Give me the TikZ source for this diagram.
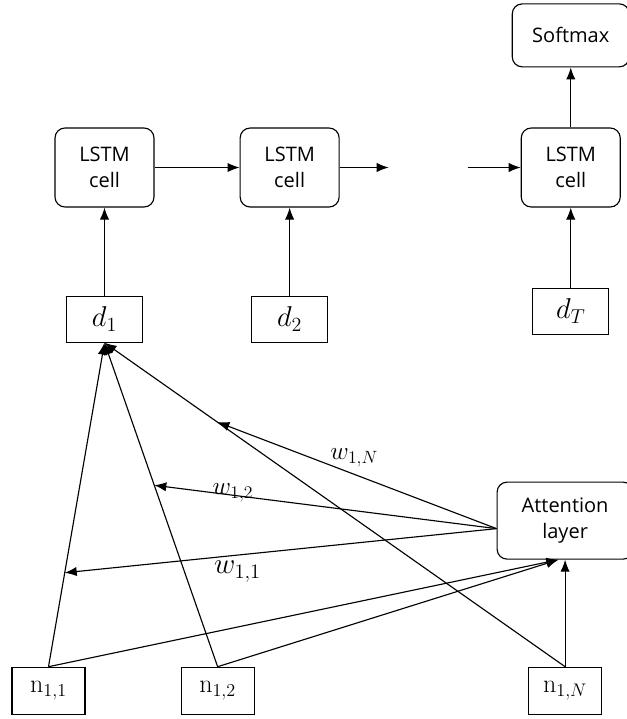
\RequirePackage{fix-cm}
\documentclass[tikz,border=0pt]{standalone}
\usepackage{amsmath}
\usepackage{fontspec}
\setsansfont{Open Sans}
\usetikzlibrary{arrows.meta, positioning, calc}

\begin{document}
\begin{tikzpicture}[
    cell/.style={rectangle, draw, rounded corners=7.5pt, minimum width=74.25pt, minimum height=59.25pt, align=center, font=\sffamily\fontsize{15}{19}\selectfont, line width=0.85pt},
    vec/.style={rectangle, draw, minimum width=57pt, minimum height=34.5pt, font=\fontsize{21.5}{25}\selectfont, line width=0.85pt},
    state/.style={vec, minimum width=54.75pt, minimum height=35.25pt, font=\fontsize{19.5}{23}\selectfont},
    wlab/.style={font=\fontsize{19}{23}\selectfont, inner sep=1pt},
    arrow/.style={-{Latex[length=9pt, width=7pt]}, line width=0.85pt}
]
\useasboundingbox (-78.375pt,125.625pt) rectangle (391.125pt,-413.625pt);

% LSTM chain
\node[cell] (lstm1) at (0,0) {LSTM\\cell};
\node[cell, right=63.75pt of lstm1] (lstm2) {LSTM\\cell};
\node[cell, right=135.75pt of lstm2] (lstm3) {LSTM\\cell};
\node[cell, above=45pt of lstm3, minimum width=87.75pt, minimum height=47.25pt] (soft) {Softmax};

\coordinate[right=36.75pt of lstm2] (gapin);
\coordinate[left=39.75pt of lstm3] (gapout);

% decoder inputs
\node[vec, below=66pt of lstm1] (d1) {$d_1$};
\node[vec, below=66pt of lstm2] (d2) {$d_2$};
\node[vec, below=60pt of lstm3] (dT) {$d_T$};

% encoder states
\node[state, below=243pt of d1, xshift=-42pt] (n11) {$\mathrm{n}_{1,1}$};
\node[state, right=71.25pt of n11] (n12) {$\mathrm{n}_{1,2}$};
\node[state, right=205pt of n12] (n1N) {$\mathrm{n}_{1,N}$};

% Attention
\node[cell, above=80.25pt of n1N, minimum width=102pt, minimum height=57.75pt] (attn) {Attention\\layer};

\coordinate (attin) at ([xshift=-5pt]attn.south);
\coordinate (attout) at ([yshift=-6pt]attn.west);
\coordinate (p11) at ($(n11.north)!0.29!(d1.south)$);
\coordinate (p12) at ($(n12.north)!0.56!(d1.south)$);
\coordinate (p1N) at ($(n1N.north)!0.755!(d1.south)$);

% Arrows - LSTM row
\draw[arrow] (lstm1) -- (lstm2);
\draw[arrow] (lstm2) -- (gapin);
\draw[arrow] (gapout) -- (lstm3);
\draw[arrow] (lstm3) -- (soft);
\draw[arrow] (d1) -- (lstm1);
\draw[arrow] (d2) -- (lstm2);
\draw[arrow] (dT) -- (lstm3);

% Arrows - states to d1 and attention
\draw[arrow] (n11.north) -- (d1.south);
\draw[arrow] (n12.north) -- (d1.south);
\draw[arrow] (n1N.north) -- (d1.south);
\draw[arrow] (n11.north) -- (attin);
\draw[arrow] (n12.north) -- (attin);
\draw[arrow] (n1N) -- (attn);

% Arrows - weights
\draw[arrow] (attout) -- node[wlab, pos=0.6, below=3pt, font=\fontsize{22}{26}\selectfont] (w11) {$w_{1,1}$} (p11);
\draw[arrow] (attout) -- node[wlab, pos=0.77, yshift=2pt] (w12) {$w_{1,2}$} (p12);
\draw[arrow] (attout) -- node[wlab, pos=0.51, above=4pt] (w1N) {$w_{1,N}$} (p1N);

\end{tikzpicture}
\end{document}
